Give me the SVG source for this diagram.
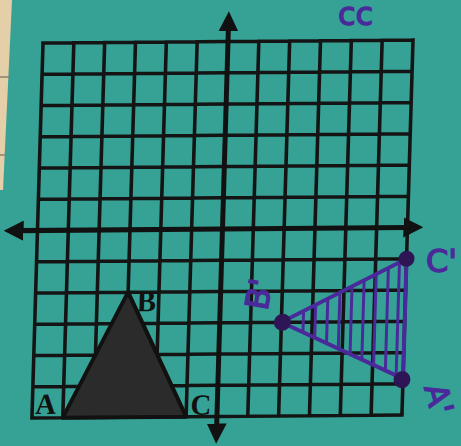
<svg xmlns="http://www.w3.org/2000/svg" width="461" height="446" viewBox="0 0 461 446">
<defs>
<style>
.grid{fill:none;stroke:#141414;stroke-width:3.6;stroke-linecap:square}
.axis{fill:none;stroke:#111;stroke-width:5}
.lbl{font-family:"Liberation Serif",serif;font-weight:bold;font-size:29px;fill:#111}
.pen{fill:none;stroke:#4a2a9a;stroke-width:4;stroke-linecap:round;stroke-linejoin:round}
.hatch{fill:none;stroke:#4a2a9a;stroke-width:3}
.dot{fill:#2e1656}
.hand{font-family:"DejaVu Sans",sans-serif;font-size:32px;fill:#4a2a9a;stroke:#4a2a9a;stroke-width:1.4}
</style>
<marker id="arr" markerWidth="4" markerHeight="4" refX="0.8" refY="2" orient="auto" markerUnits="strokeWidth">
<path d="M0,0 L4,2 L0,4 z" fill="#111"/>
</marker>
<clipPath id="tri2"><polygon points="248,279 372,217 372,336"/></clipPath>
</defs>
<rect width="461" height="446" fill="#36a295"/>
<g id="paper">
<polygon points="0,0 12,0 3,190 0,190" fill="#e4cfa8"/>
<path d="M0,77 H10 M0,155 H6" stroke="#8a8070" stroke-width="1.5"/>
</g>
<text class="hand" x="338" y="25" font-size="17">cc</text>
<g transform="matrix(0.9946 -0.0081 -0.0297 1.008 43 43)">
<g id="grid">
<path class="grid" d="M0,0 V372 M31,0 V372 M62,0 V372 M93,0 V372 M124,0 V372 M155,0 V372 M217,0 V372 M248,0 V372 M279,0 V372 M310,0 V372 M341,0 V372 M372,0 V372
M0,0 H372 M0,31 H372 M0,62 H372 M0,93 H372 M0,124 H372 M0,155 H372 M0,217 H372 M0,248 H372 M0,279 H372 M0,310 H372 M0,341 H372 M0,372 H372"/>
</g>
<g id="connectors">
<line class="axis" x1="186" y1="186" x2="186" y2="-14" marker-end="url(#arr)"/>
<line class="axis" x1="186" y1="186" x2="186" y2="383" marker-end="url(#arr)"/>
<line class="axis" x1="186" y1="186" x2="-18" y2="186" marker-end="url(#arr)"/>
<line class="axis" x1="186" y1="186" x2="372" y2="186" marker-end="url(#arr)"/>
</g>
<g id="triangleABC">
<polygon points="31,372 93,248 155,372" fill="#2b2b2b" stroke="#111" stroke-width="4" stroke-linejoin="round"/>
<text class="lbl" x="3" y="368">A</text>
<text class="lbl" x="102" y="267">B</text>
<text class="lbl" x="159" y="370">C</text>
</g>
<g id="triangleImage">
<g clip-path="url(#tri2)">
<path class="hatch" d="M270,200 V360 M282,200 V360 M294,200 V360 M306,200 V360 M318,200 V360 M330,200 V360 M342,200 V360 M354,200 V360 M365,200 V360"/>
</g>
<polygon class="pen" points="248,279 372,217 372,336"/>
<circle class="dot" cx="372" cy="217" r="8"/>
<circle class="dot" cx="249" cy="279" r="8.5"/>
<circle class="dot" cx="371" cy="337" r="8.5"/>
</g>
</g>
<g id="handLabels">
<text class="hand" x="426" y="272">C'</text>
<text class="hand" transform="translate(270,296) rotate(-80)" text-anchor="middle" font-size="36">B'</text>
<text class="hand" transform="translate(428,402) rotate(75)" text-anchor="middle" font-size="34">A'</text>
</g>
</svg>
